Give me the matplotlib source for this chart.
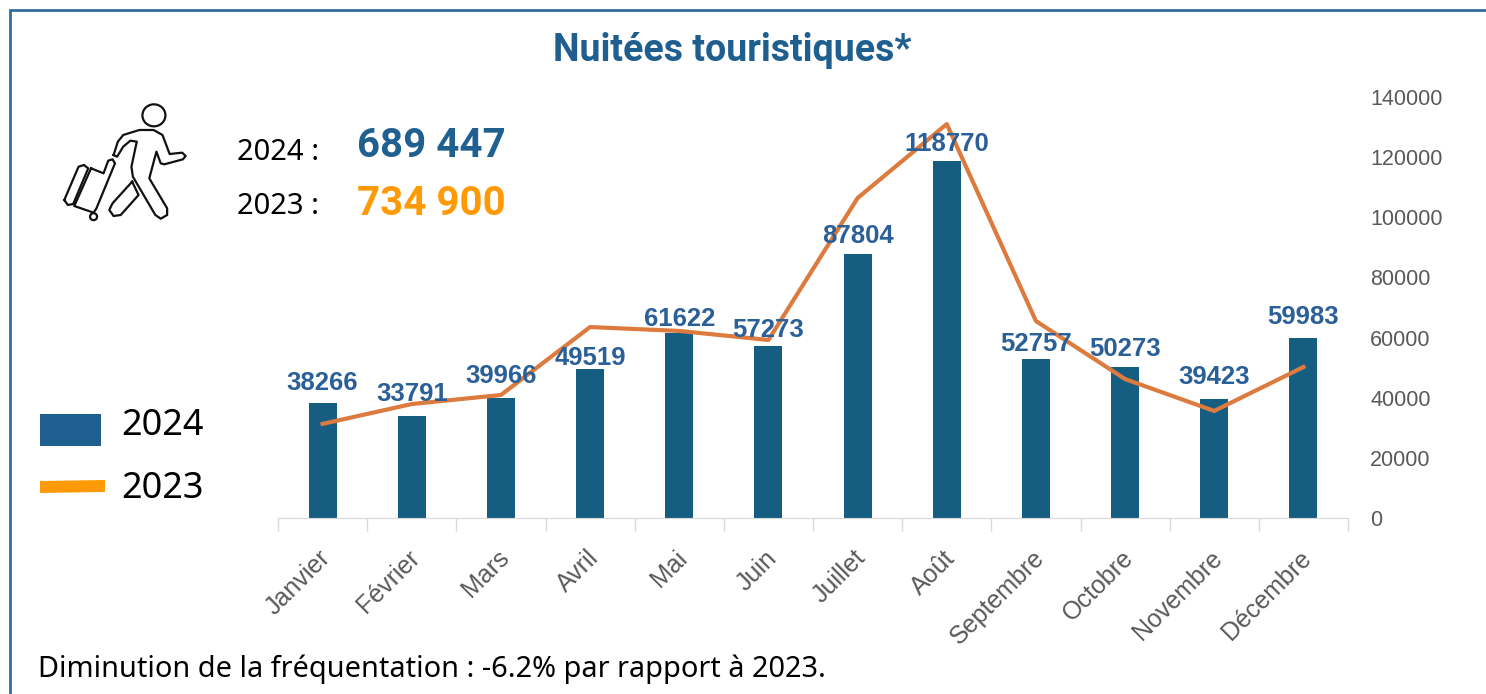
import matplotlib
matplotlib.use('Agg')
import matplotlib.pyplot as plt
from matplotlib.patches import Rectangle, Ellipse, Polygon
from matplotlib.transforms import ScaledTranslation

W = 1486
H = 694

months = ['Janvier', 'Février', 'Mars', 'Avril', 'Mai', 'Juin', 'Juillet', 'Août',
          'Septembre', 'Octobre', 'Novembre', 'Décembre']
values_2024 = [38266, 33791, 39966, 49519, 61622, 57273, 87804, 118770, 52757, 50273, 39423, 59983]
values_2023 = [31300, 37900, 40900, 63500, 62200, 59200, 106400, 131000, 65500, 46200, 35600, 50200]
yticks = [0, 20000, 40000, 60000, 80000, 100000, 120000, 140000]
# height of each value label above its bar, in pixels
label_gap = [20, 22, 22, 11, 14, 16, 18, 17, 15, 18, 22, 21]

BLUE = '#155e82'
TEXTBLUE = '#2a5f97'
ORANGE = '#dd7a3e'
GREY = '#595959'
BOLD = 'Roboto'

fig = plt.figure(figsize=(W / 100, H / 100), dpi=100)

# background layer in pixels, for frame, icon and free text
bg = fig.add_axes([0, 0, 1, 1])
bg.set_xlim(0, W)
bg.set_ylim(H, 0)
bg.axis('off')

bg.plot([10, 10, W], [H, 10, 10], color='#2f6c9f', lw=2, solid_joinstyle='miter')

bg.text(732, 50, 'Nuitées touristiques*', family=BOLD, weight='bold', fontsize=27,
        color='#1f5f8f', ha='center', va='center')

bg.text(237, 152, '2024 :', family='Noto Sans', fontsize=21, color='black', va='center')
bg.text(237, 206, '2023 :', family='Noto Sans', fontsize=21, color='black', va='center')
bg.text(357, 146, '689 447', family=BOLD, weight='bold', fontsize=29, color='#1f6090', va='center')
bg.text(357, 204, '734 900', family=BOLD, weight='bold', fontsize=29, color='#ff9a05', va='center')

bg.add_patch(Rectangle((40, 414), 61, 32, color='#1f5f8f', lw=0))
bg.add_patch(Polygon([(40, 481), (105, 480), (105, 492), (40, 493)], color='#ff9a05', lw=0))
bg.text(121, 426, '2024', family='Noto Sans', fontsize=26, color='black', va='center')
bg.text(121, 489, '2023', family='Noto Sans', fontsize=26, color='black', va='center')

bg.text(38, 669, 'Diminution de la fréquentation : -6.2% par rapport à 2023.',
        family='Noto Sans', fontsize=20.8, color='black', va='center')

body = [(318, 465), (330, 425), (345, 405), (390, 390), (430, 390), (455, 405), (475, 462),
        (510, 458), (520, 468), (512, 478), (460, 493), (450, 490), (438, 455), (418, 535),
        (468, 625), (468, 645), (450, 656), (435, 645), (372, 530), (368, 500), (383, 425),
        (365, 422), (345, 440), (328, 470), (318, 465)]
leg = [(370, 545), (388, 585), (338, 645), (318, 648), (306, 630), (315, 610), (370, 545)]
panel = [(180, 600), (220, 500), (235, 495), (247, 505), (205, 612), (190, 615), (180, 600)]
case = [(255, 505), (290, 520), (303, 482), (315, 478), (322, 490), (270, 625), (262, 638),
        (208, 618), (255, 505)]
for shape in [body, leg, panel, case]:
    bg.plot([p[0] / 2.8 for p in shape], [p[1] / 3 for p in shape], color='#111111', lw=1.6,
            solid_joinstyle='round')
bg.add_patch(Ellipse((431 / 2.8, 346 / 3), 23, 22, fill=False, ec='#111111', lw=1.6))
bg.add_patch(Ellipse((262 / 2.8, 650 / 3), 7, 7, fill=False, ec='#111111', lw=1.6))

# chart
ax = fig.add_axes([278 / W, 1 - 518 / H, 1070 / W, 421 / H])
ax.patch.set_alpha(0)
x = list(range(len(months)))
ax.bar(x, values_2024, width=0.315, color=BLUE, zorder=2)
ax.plot(x, values_2023, color=ORANGE, lw=3.0, zorder=3, solid_joinstyle='round')

for i, v in enumerate(values_2024):
    ax.annotate(str(v), (i, v), xytext=(0, label_gap[i] * 0.72), textcoords='offset points',
                ha='center', va='center', family='Liberation Sans', weight='bold', fontsize=18.5,
                color=TEXTBLUE, zorder=4)

ax.set_xlim(-0.5, 11.5)
ax.set_ylim(0, 140000)
ax.set_yticks(yticks)
ax.yaxis.tick_right()
ax.tick_params(axis='y', length=0, pad=16, labelsize=15.5, labelcolor=GREY)

# ticks sit between the categories, labels on the categories
ax.set_xticks([i - 0.5 for i in range(13)])
ax.set_xticklabels([])
ax.tick_params(axis='x', length=9.5, width=1, color='#d9d9d9')
ax.set_xticks(x, minor=True)
ax.set_xticklabels(months, minor=True, rotation=45, ha='right', rotation_mode='anchor',
                   fontsize=18, color=GREY)
ax.tick_params(axis='x', which='minor', length=0, pad=20)

shift = ScaledTranslation(-4 / 100, 0, fig.dpi_scale_trans)
for t in ax.get_xticklabels(minor=True):
    t.set_transform(t.get_transform() + shift)

for name in ['top', 'left', 'right']:
    ax.spines[name].set_visible(False)
ax.spines['bottom'].set_color('#d9d9d9')

for t in ax.get_yticklabels() + ax.get_xticklabels(minor=True):
    t.set_family('Liberation Sans')

fig.savefig('out.png', dpi=100)
